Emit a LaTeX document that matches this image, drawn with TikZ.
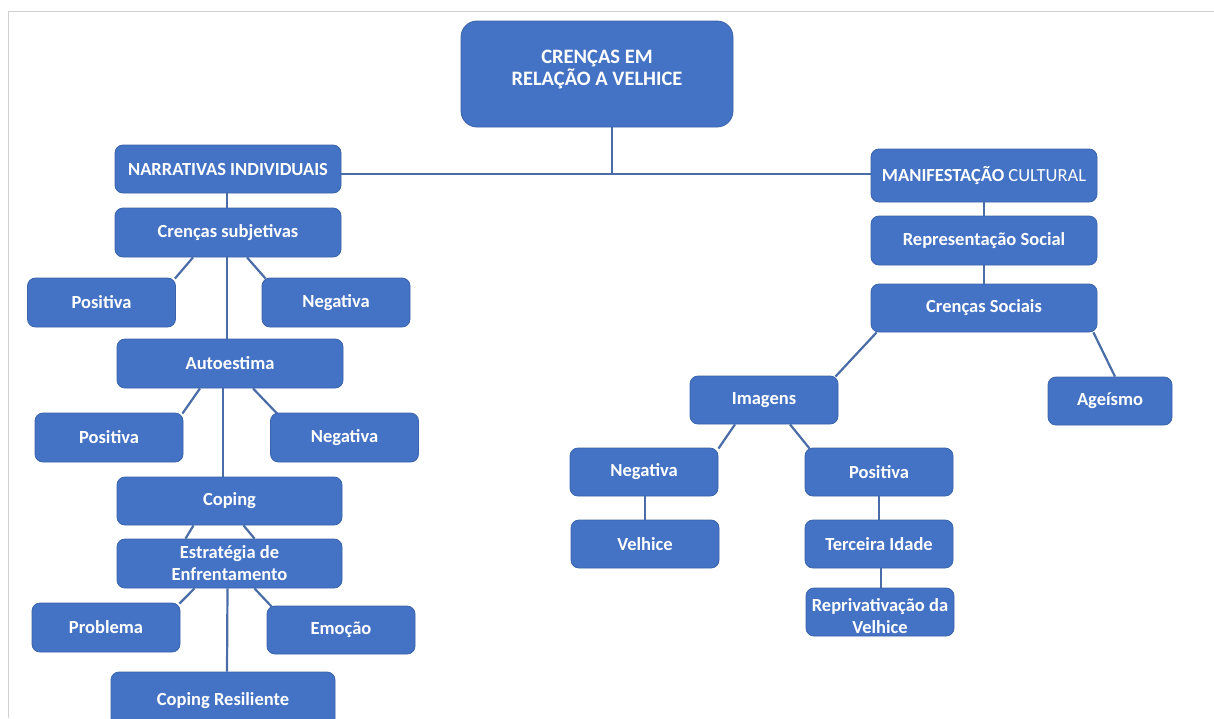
\documentclass[tikz,border=0pt]{standalone}
\usepackage{fontspec}
\setmainfont{Carlito}
\usetikzlibrary{calc,backgrounds}
\definecolor{boxfill}{HTML}{4472C4}
\definecolor{boxline}{HTML}{3A63AC}
\definecolor{conn}{HTML}{4A6DA7}
\definecolor{framegray}{HTML}{D0D0D0}
\begin{document}
\begin{tikzpicture}[x=1pt,y=-1pt,
  box/.style={draw=boxline, line width=0.8pt, fill=boxfill, rounded corners=8pt,
    text=white, font=\fontsize{18.5}{22}\selectfont\bfseries, align=center, inner sep=0pt},
  sbox/.style={box, minimum width=148pt, minimum height=48pt},
  wbox/.style={box, minimum width=226pt, minimum height=49pt},
  txt/.style={text=white, font=\fontsize{18.5}{22}\selectfont\bfseries, align=center, inner sep=0pt},
  link/.style={draw=conn, line width=2.2pt}]
\clip (0,0) rectangle (1214,718);

% top
\node[box, minimum width=272pt, minimum height=106pt, rounded corners=16pt] (top) at (597,74) {};
\node[txt, font=\fontsize{20.5}{22}\selectfont\bfseries] (toptext) at (597,69) {CRENÇAS EM\\RELAÇÃO A VELHICE};

% left branch
\node[wbox, minimum height=48pt] (nar) at (228,169) {NARRATIVAS INDIVIDUAIS};
\node[wbox] (cs) at (228,232.5) {Crenças subjetivas};
\node[sbox, minimum height=49pt] (p1) at (101.5,302.5) {Positiva};
\node[sbox, minimum height=49pt] (n1) at (336,302.5) {Negativa};
\node[wbox] (auto) at (230,363.5) {Autoestima};
\node[sbox, minimum height=49pt] (p2) at (109,437.5) {Positiva};
\node[sbox, minimum height=49pt] (n2) at (344.5,437.5) {Negativa};
\node[wbox, minimum width=225pt, minimum height=48pt] (cop) at (229.5,501) {Coping};
\node[wbox, minimum width=225pt] (estr) at (229.5,563.5) {Estratégia de\\Enfrentamento};
\node[sbox, minimum height=49pt] (prob) at (106,627.5) {Problema};
\node[sbox] (emo) at (341,630) {Emoção};
\node[wbox, minimum width=224pt, minimum height=58pt] (cres) at (223,701) {Coping Resiliente};

% right branch
\node[wbox, minimum height=53pt] (man) at (984,175.5) {MANIFESTAÇÃO \mdseries CULTURAL};
\node[wbox] (rep) at (984,240.5) {Representação Social};
\node[wbox, minimum height=48pt] (csoc) at (984,308) {Crenças Sociais};
\node[sbox] (img) at (764,400) {Imagens};
\node[sbox, minimum width=124pt] (age) at (1110,401) {Ageísmo};
\node[sbox] (nneg) at (644,472) {Negativa};
\node[sbox] (velh) at (645,544) {Velhice};
\node[sbox] (ppos) at (879,472) {Positiva};
\node[sbox] (terc) at (879,544) {Terceira Idade};
\node[sbox] (repr) at (880,612) {};
\node[txt] (reprtext) at (880,616) {Reprivativação da\\Velhice};

\coordinate (j) at (612,174);

\begin{scope}[on background layer]
\fill[white] (0,0) rectangle (1214,718);
\draw[framegray, line width=1pt] (1214,11) -- (8,11) -- (8,718);
\draw[link] (top.south -| j) -- (j);
\draw[link] (nar.east |- j) -- (man.west |- j);
\draw[link] ($(nar.south)+(-1,0)$) -- ($(cs.north)+(-1,0)$);
\draw[link] ($(cs.south)+(-35,0)$) -- ($(p1.north east)+(-1,1)$);
\draw[link] ($(cs.south)+(19,0)$) -- ($(n1.north west)+(4,1)$);
\draw[link] ($(cs.south)+(-1,0)$) -- ($(auto.north)+(-3,0)$);
\draw[link] ($(auto.south)+(-30,0)$) -- ($(p2.north east)+(-1,1)$);
\draw[link] ($(auto.south)+(23,0)$) -- ($(n2.north west)+(7,1)$);
\draw[link] ($(auto.south)+(-7,0)$) -- ($(cop.north)+(-6.5,0)$);
\draw[link] ($(cop.south)+(-36,0)$) -- ($(estr.north)+(-44,0)$);
\draw[link] ($(cop.south)+(14,0)$) -- ($(estr.north)+(25,0)$);
\draw[link] ($(estr.south)+(-35,0)$) -- ($(prob.north east)+(-1,1)$);
\draw[link] ($(estr.south)+(25,0)$) -- ($(emo.north west)+(5,1)$);
\draw[link] ($(estr.south)+(-2,0)$) -- ($(cres.north)+(4,0)$);
\draw[link] (man.south) -- (rep.north);
\draw[link] (rep.south) -- (csoc.north);
\draw[link] ($(csoc.south west)+(6,0)$) -- ($(img.north east)+(-3,1)$);
\draw[link] ($(csoc.south east)+(-4,0)$) -- ($(age.north)+(5,0)$);
\draw[link] ($(img.south)+(-29,0)$) -- ($(nneg.north east)+(0,1)$);
\draw[link] ($(img.south)+(26,0)$) -- ($(ppos.north west)+(5,1)$);
\draw[link] ($(nneg.south)+(1,0)$) -- ($(velh.north)+(0,0)$);
\draw[link] (ppos.south) -- (terc.north);
\draw[link] ($(terc.south)+(2,0)$) -- ($(repr.north)+(1,0)$);
\end{scope}
\end{tikzpicture}
\end{document}
